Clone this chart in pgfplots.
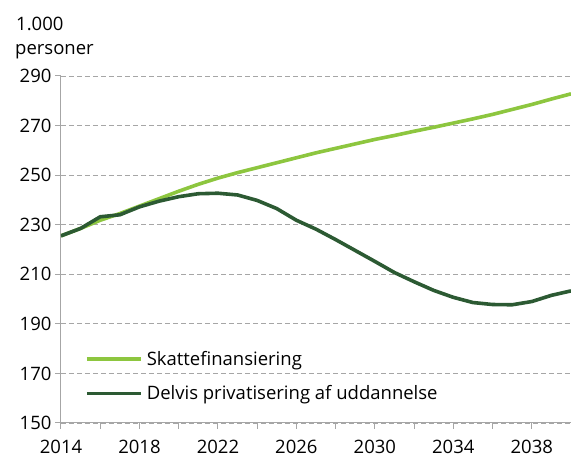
\documentclass[border=0pt]{standalone}
\usepackage{fontspec}
\setmainfont{Open Sans}
\usepackage{pgfplots}
\pgfplotsset{compat=1.18}
\definecolor{light}{HTML}{8DC63F}
\definecolor{dark}{HTML}{2C5A33}
\definecolor{axgray}{HTML}{A6A6A6}
\newcommand{\fs}{\fontsize{18.5}{22}\selectfont}
\begin{document}
\begin{tikzpicture}[x=1pt,y=1pt]
\path[use as bounding box] (-61,-34) rectangle (510,423);
\begin{axis}[
 at={(0,0)}, anchor=south west,
 scale only axis, width=510pt, height=347pt,
 xmin=2014, xmax=2040, ymin=150, ymax=290,
 xtick={2014,2018,...,2038},
 minor xtick={2016,2020,...,2040},
 ytick={150,170,...,290},
 x tick label style={/pgf/number format/1000 sep={}, yshift=-8pt},
 /pgf/number format/assume math mode=true,
 tick label style={font=\fs, text=black},
 axis x line*=bottom, axis y line*=left,
 axis line style={axgray, line width=1pt, -},
 tick align=outside,
 major tick length=6pt, minor tick length=6pt,
 tick style={axgray, line width=1pt},
 ymajorgrids,
 major grid style={axgray, line width=0.9pt, dash pattern=on 5pt off 3pt},
 legend style={draw=none, fill=none, at={(0.047,0.135)}, anchor=west,
   font=\fs, row sep=19pt, column sep=4pt, inner xsep=0pt, inner ysep=0pt,
   nodes={inner sep=0pt}},
 legend cell align=left,
 legend image code/.code={\draw[#1] (0pt,0pt) -- (54pt,0pt);},
]
\addplot[light, line width=3.6pt] coordinates {
(2014,225.5) (2015,228.5) (2016,231.8) (2017,234.5) (2018,237.5) (2019,240.5)
(2020,243.5) (2021,246.3) (2022,248.8) (2023,251.0) (2024,253.0) (2025,255.0)
(2026,257.0) (2027,259.0) (2028,260.8) (2029,262.6) (2030,264.4) (2031,266.0)
(2032,267.7) (2033,269.3) (2034,271.0) (2035,272.7) (2036,274.5) (2037,276.5)
(2038,278.5) (2039,280.7) (2040,282.8)};
\addlegendentry{Skattefinansiering}
\addplot[dark, line width=3.6pt] coordinates {
(2014,225.5) (2015,228.5) (2016,233.2) (2017,234.0) (2018,237.2) (2019,239.5)
(2020,241.3) (2021,242.5) (2022,242.7) (2023,242.0) (2024,239.8) (2025,236.5)
(2026,231.8) (2027,228.2) (2028,224.0) (2029,219.6) (2030,215.2) (2031,210.7)
(2032,207.0) (2033,203.5) (2034,200.7) (2035,198.6) (2036,197.8) (2037,197.7)
(2038,199.0) (2039,201.5) (2040,203.3)};
\addlegendentry{Delvis privatisering af uddannelse}
\end{axis}
\node[anchor=base west, font=\fs, inner sep=0pt] at (-45,392) {1.000};
\node[anchor=base west, font=\fs, inner sep=0pt] at (-46,368) {personer};
\end{tikzpicture}
\end{document}
